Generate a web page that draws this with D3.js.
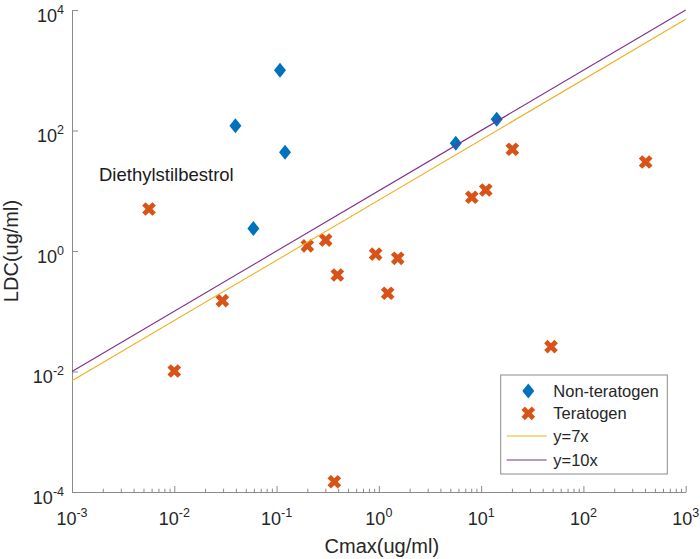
<!DOCTYPE html>
<html>
<head>
<meta charset="utf-8">
<script src="https://cdn.jsdelivr.net/npm/d3@7"></script>
<style>
  html, body { margin: 0; padding: 0; background: #fff; }
  svg { display: block; font-family: "Liberation Sans", Arial, Helvetica, sans-serif; }
</style>
</head>
<body>
<svg id="chart" width="700" height="559"></svg>
<script>
// ---- data ----
const nonTeratogenCmax = [0.108, 0.0396, 0.121, 0.0593, 5.65, 14.2];
const nonTeratogenLDC  = [1000, 120, 43.5, 2.36, 61.3, 153];

const teratogenCmax = [0.00566, 0.01, 0.0295, 0.2, 0.302, 0.393, 0.367, 0.93, 1.22, 1.53, 8.1, 11.1, 20.2, 48.2, 406];
const teratogenLDC  = [4.98, 0.0102, 0.150, 1.22, 1.52, 0.40, 0.000148, 0.89, 0.199, 0.757, 7.8, 10.3, 48.8, 0.0258, 30];

const lineFactors = [7, 10];
const lineNames = ["y=7x", "y=10x"];
const seriesNames = ["Non-teratogen", "Teratogen"];

const xTickExps = [-3, -2, -1, 0, 1, 2, 3];
const yTickExps = [-4, -2, 0, 2, 4];
const annotationText = "Diethylstilbestrol";
const annotationIndex = 0; // teratogen point labelled

// ---- layout ----
const W = 700, H = 559;
const margin = { left: 72, right: 14.3, top: 10, bottom: 67 };
const colors = { non: "#0072BD", ter: "#D95319", l7: "#EDB120", l10: "#7E2F8E" };
const axisColor = "#8a8a8a";
const textColor = "#262626";

const svg = d3.select("#chart");
const x = d3.scaleLog().domain([1e-3, 1e3]).range([margin.left, W - margin.right]);
const y = d3.scaleLog().domain([1e-4, 1e4]).range([H - margin.bottom, margin.top]);

// ---- axes ----
const xMinor = [];
for (let e = -3; e < 3; e++) for (let k = 2; k <= 9; k++) xMinor.push(k * Math.pow(10, e));

const gx = svg.append("g").attr("transform", `translate(0,${H - margin.bottom})`);
gx.call(d3.axisBottom(x).tickValues(xTickExps.map(e => Math.pow(10, e))).tickSize(-6).tickSizeOuter(0).tickFormat(""));
gx.append("g").call(d3.axisBottom(x).tickValues(xMinor).tickSize(-3.3).tickSizeOuter(0).tickFormat(""))
  .select(".domain").remove();
gx.selectAll("line").attr("stroke", axisColor);
gx.selectAll(".domain").attr("stroke", axisColor).attr("stroke-width", 1);

const gy = svg.append("g").attr("transform", `translate(${margin.left},0)`);
gy.call(d3.axisLeft(y).tickValues(yTickExps.map(e => Math.pow(10, e))).tickSize(-6).tickSizeOuter(0).tickFormat(""));
gy.selectAll("line").attr("stroke", axisColor);
gy.selectAll(".domain").attr("stroke", axisColor).attr("stroke-width", 1);

// tick labels with superscripts
function powLabel(g, e, px, py, anchor) {
  const t = g.append("text").attr("x", px).attr("y", py).attr("text-anchor", anchor)
    .attr("fill", textColor).attr("font-size", 18);
  t.append("tspan").text("10");
  t.append("tspan").attr("font-size", 12.5).attr("dy", -8).text(e);
}
xTickExps.forEach(e => powLabel(svg, e, x(Math.pow(10, e)), H - margin.bottom + 33, "middle"));
yTickExps.forEach(e => powLabel(svg, e, margin.left - 8, y(Math.pow(10, e)) + 11.5, "end"));

// axis titles
svg.append("text").attr("x", (margin.left + W - margin.right) / 2 + 3).attr("y", 553)
  .attr("text-anchor", "middle").attr("font-size", 20).attr("fill", textColor).text("Cmax(ug/ml)");
svg.append("text").attr("transform", `translate(18,${(margin.top + H - margin.bottom) / 2}) rotate(-90)`)
  .attr("text-anchor", "middle").attr("font-size", 20).attr("fill", textColor).text("LDC(ug/ml)");

// ---- markers ----
const diamondPath = "M0,-7.5L6,0L0,7.5L-6,0Z";
const crossPath = d3.symbol().type(d3.symbolCross).size(117)();

const nonData = nonTeratogenCmax.map((c, i) => ({ c, l: nonTeratogenLDC[i] }));
const terData = teratogenCmax.map((c, i) => ({ c, l: teratogenLDC[i] }));

svg.append("g").selectAll("path").data(nonData).join("path")
  .attr("d", diamondPath).attr("fill", colors.non)
  .attr("transform", d => `translate(${x(d.c)},${y(d.l)})`);

svg.append("g").selectAll("path").data(terData).join("path")
  .attr("d", crossPath).attr("fill", colors.ter)
  .attr("transform", d => `translate(${x(d.c)},${y(d.l)}) rotate(45)`);

// ---- reference lines ----
const xs = x.domain();
const lineGen = d3.line().x(d => x(d[0])).y(d => y(d[1]));
lineFactors.forEach((k, i) => {
  svg.append("path").datum(xs.map(v => [v, k * v])).attr("d", lineGen)
    .attr("fill", "none").attr("stroke", i === 0 ? colors.l7 : colors.l10).attr("stroke-width", 1.1);
});

// ---- annotation ----
const ann = terData[annotationIndex];
svg.append("text").attr("x", x(ann.c) - 50).attr("y", y(ann.l) - 28)
  .attr("font-size", 18.5).attr("fill", "#1a1a1a").text(annotationText);

// ---- legend ----
const lg = svg.append("g").attr("transform", "translate(500.7,375)");
lg.append("rect").attr("width", 166.6).attr("height", 99).attr("fill", "#fff").attr("stroke", axisColor).attr("stroke-width", 1);
const rowsY = [16, 38.3, 61, 85];
lg.append("path").attr("d", diamondPath).attr("fill", colors.non).attr("transform", `translate(27.6,${rowsY[0]})`);
lg.append("path").attr("d", crossPath).attr("fill", colors.ter).attr("transform", `translate(27.6,${rowsY[1]}) rotate(45)`);
lg.append("line").attr("x1", 6).attr("x2", 46).attr("y1", rowsY[2]).attr("y2", rowsY[2]).attr("stroke", colors.l7).attr("stroke-width", 1.1);
lg.append("line").attr("x1", 6).attr("x2", 46).attr("y1", rowsY[3]).attr("y2", rowsY[3]).attr("stroke", colors.l10).attr("stroke-width", 1.1);
const labels = seriesNames.concat(lineNames);
labels.forEach((t, i) => {
  lg.append("text").attr("x", 52.6).attr("y", rowsY[i] + 6).attr("font-size", 16.5).attr("fill", textColor).text(t);
});
</script>
</body>
</html>
